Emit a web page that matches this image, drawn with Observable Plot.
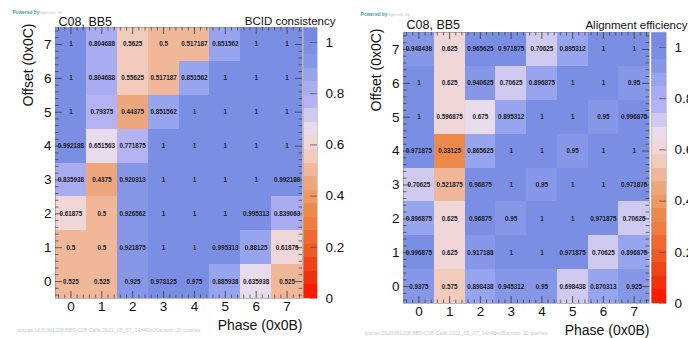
<!DOCTYPE html>
<html><head><meta charset="utf-8">
<script src="https://cdn.jsdelivr.net/npm/d3@7"></script>
<script src="https://cdn.jsdelivr.net/npm/@observablehq/plot@0.6"></script>
<style>
body{margin:0;background:#fff;}
#root{position:relative;width:688px;height:338px;overflow:hidden;font-family:"Liberation Sans",Arial,sans-serif;}
.panel{position:absolute;top:0;width:344px;height:338px;}
.panel svg{position:absolute;left:0;top:0;}
</style></head><body><div id="root"></div>
<script>
// ---- data ----
const phases = [0, 1, 2, 3, 4, 5, 6, 7];          // x: Phase (0x0B)
const offsets = [7, 6, 5, 4, 3, 2, 1, 0];         // y: Offset (0x0C), row order as drawn top->bottom
// BCID consistency, rows offset 7..0, columns phase 0..7
const bcidConsistency = [
  [1, 0.804688, 0.5625, 0.5, 0.517187, 0.851562, 1, 1],
  [1, 0.804688, 0.55625, 0.517187, 0.851562, 1, 1, 1],
  [1, 0.79375, 0.44375, 0.851562, 1, 1, 1, 1],
  [0.992188, 0.651563, 0.771875, 1, 1, 1, 1, 1],
  [0.835938, 0.4375, 0.920313, 1, 1, 1, 1, 0.992188],
  [0.61875, 0.5, 0.926562, 1, 1, 1, 0.995313, 0.839063],
  [0.5, 0.5, 0.921875, 1, 1, 0.995313, 0.88125, 0.61875],
  [0.525, 0.525, 0.925, 0.978125, 0.975, 0.885938, 0.635938, 0.525]
];
// Alignment efficiency, rows offset 7..0, columns phase 0..7
const alignmentEfficiency = [
  [0.948438, 0.625, 0.965625, 0.971875, 0.70625, 0.895312, 1, 1],
  [1, 0.625, 0.940625, 0.70625, 0.896875, 1, 1, 0.95],
  [1, 0.596875, 0.675, 0.895312, 1, 1, 0.95, 0.996875],
  [0.971875, 0.33125, 0.865625, 1, 1, 0.95, 1, 1],
  [0.70625, 0.521875, 0.96875, 1, 0.95, 1, 1, 0.971875],
  [0.896875, 0.625, 0.96875, 0.95, 1, 1, 0.971875, 0.70625],
  [0.996875, 0.625, 0.917188, 1, 1, 0.971875, 0.70625, 0.896875],
  [0.9375, 0.575, 0.898438, 0.945312, 0.95, 0.698438, 0.870313, 0.925]
];
const colorTicks = [0, 0.2, 0.4, 0.6, 0.8, 1];
const titleLeft = "C08, BB5";
const sourceText = "tpscax.1620391228.BB5-C08-Calib.2021_05_07_14h40m30s.root: 20 queries";

// ---- color scale (20 discrete bands, ROOT-like palette) ----
const zMax = 1.0586;
const nBands = 20;
const palette = ["#ff1a00","#f2300e","#f04418","#f05824","#f06a30","#ef7c40","#ec8a4c","#ef9a66",
                 "#eea67c","#f0b898","#f2cbbc","#f0d6d6","#e7dbec","#d0c9f0","#b4b2f2","#a9acf0",
                 "#97a4ee","#8597e6","#7a8fe4","#7888e2"];
const step = zMax / nBands;
const thresholds = d3.range(1, nBands).map(i => i * step);
const colorScale = {type: "threshold", domain: thresholds, range: palette};
const FONT = '"Liberation Sans", Arial, Helvetica, sans-serif';

function cellsOf(values) {
  return values.flatMap((row, r) => row.map((v, c) => ({phase: phases[c], offset: offsets[r], value: v})));
}

const majors = phases;
const minors = d3.range(-2, 38).filter(i => i % 5 !== 0).map(i => i / 5);

function panel(cfg) {
  const div = document.createElement("div");
  div.className = "panel";
  div.style.left = cfg.left + "px";
  const f = cfg.frame;
  const W = f.r - f.l, H = f.b - f.t;
  const cells = cellsOf(cfg.values);
  const tk = "#3a3a3a";
  const heat = Plot.plot({
    width: 344, height: 338,
    marginLeft: f.l, marginRight: 344 - f.r, marginTop: f.t, marginBottom: 338 - f.b,
    x: {domain: [-0.5, 7.5]},
    y: {domain: [-0.5, 7.5]},
    color: colorScale,
    style: {fontFamily: FONT, background: "transparent", overflow: "visible"},
    marks: [
      Plot.rect(cells, {x1: d => d.phase - 0.5, x2: d => d.phase + 0.5, y1: d => d.offset - 0.5, y2: d => d.offset + 0.5,
                        fill: "value", shapeRendering: "crispEdges"}),
      Plot.text(cells, {x: "phase", y: "offset", text: d => String(d.value), fontSize: 6.3, fontWeight: "bold", fill: "#1b1b28"}),
      Plot.frame({stroke: "#8a8a8a", strokeWidth: 0.6}),
      // ROOT-style inward ticks
      Plot.ruleX(majors, {insetTop: H - 7, stroke: tk, strokeWidth: 0.8}),
      Plot.ruleX(majors, {insetBottom: H - 7, stroke: tk, strokeWidth: 0.8}),
      Plot.ruleX(minors, {insetTop: H - 3.5, stroke: tk, strokeWidth: 0.7}),
      Plot.ruleX(minors, {insetBottom: H - 3.5, stroke: tk, strokeWidth: 0.7}),
      Plot.ruleY(majors, {insetRight: W - 7, stroke: tk, strokeWidth: 0.8}),
      Plot.ruleY(majors, {insetLeft: W - 7, stroke: tk, strokeWidth: 0.8}),
      Plot.ruleY(minors, {insetRight: W - 3.5, stroke: tk, strokeWidth: 0.7}),
      Plot.ruleY(minors, {insetLeft: W - 3.5, stroke: tk, strokeWidth: 0.7}),
      Plot.axisX({ticks: phases, tickSize: 0, tickPadding: 3, fontSize: 13.5, fill: "#111", label: null}),
      Plot.axisY({ticks: phases, tickSize: 0, tickPadding: 4, fontSize: 13.5, fill: "#111", label: null}),
      Plot.text([cfg.yLabel], {frameAnchor: "top-left", text: d => d, rotate: -90, textAnchor: "end", lineAnchor: "middle",
                                 dx: cfg.yLabelX - f.l, dy: -4, fontSize: 14, fill: "#111"}),
      Plot.text([cfg.xLabel], {frameAnchor: "bottom-right", text: d => d, textAnchor: "end", lineAnchor: "middle",
                                 dy: 27, fontSize: 14, fill: "#111"}),
      Plot.text([titleLeft], {frameAnchor: "top-left", text: d => d, textAnchor: "start", lineAnchor: "middle",
                              dx: 3, dy: cfg.titleY - f.t, fontSize: 12.5, fill: "#111"}),
      Plot.text([cfg.title], {frameAnchor: "top-right", text: d => d, textAnchor: "end", lineAnchor: "middle",
                              dx: cfg.titleRight - f.r, dy: cfg.titleY - f.t, fontSize: 11.5, fill: "#111"}),
      Plot.text([sourceText], {frameAnchor: "bottom-left", text: d => d, textAnchor: "start", lineAnchor: "middle",
                               dx: cfg.footX - f.l, dy: cfg.footY - f.b, fontSize: 5.3, fill: "#c6c9d2"}),
      Plot.text(["Powered by"], {frameAnchor: "top-left", text: d => d, textAnchor: "start", lineAnchor: "middle",
                                 dx: cfg.pwX - f.l, dy: cfg.pwY - f.t, fontSize: 4.8, fontWeight: "bold", fill: "#48a6a0"}),
      Plot.text(["Highslide JS"], {frameAnchor: "top-left", text: d => d, textAnchor: "start", lineAnchor: "middle",
                                   dx: cfg.pwX + 26 - f.l, dy: cfg.pwY - f.t, fontSize: 4.2, fontStyle: "italic", fill: "#c4c4c4"})
    ]
  });
  const b = cfg.bar;
  const bands = d3.range(nBands).map(i => ({lo: i * step, hi: (i + 1) * step, mid: (i + 0.5) * step}));
  const bar = Plot.plot({
    width: 344, height: 338,
    marginLeft: b.l, marginRight: 344 - b.r, marginTop: f.t, marginBottom: 338 - f.b,
    y: {domain: [0, zMax]},
    color: colorScale,
    style: {fontFamily: FONT, background: "transparent", overflow: "visible"},
    marks: [
      Plot.rect(bands, {y1: "lo", y2: "hi", fill: "mid", shapeRendering: "crispEdges"}),
      Plot.ruleY(colorTicks, {insetLeft: (b.r - b.l) - 7, stroke: "#555", strokeWidth: 0.8}),
      Plot.frame({stroke: "#b0b0b0", strokeWidth: 0.6}),
      Plot.axisY({ticks: colorTicks, anchor: "right", tickSize: 0, tickPadding: 8, fontSize: 13.5, fill: "#111",
                  tickFormat: d3.format("~g"), label: null})
    ]
  });
  div.appendChild(heat);
  div.appendChild(bar);
  return div;
}

const root = document.getElementById("root");
root.appendChild(panel({
  left: 0, values: bcidConsistency, title: "BCID consistency",
  frame: {l: 55, r: 302, t: 27, b: 298}, bar: {l: 303, r: 317},
  yLabel: "Offset (0x0C)", xLabel: "Phase (0x0B)", yLabelX: 28, titleRight: 335, titleY: 21,
  footX: 17, footY: 330, pwX: 12, pwY: 12
}));
root.appendChild(panel({
  left: 344, values: alignmentEfficiency, title: "Alignment efficiency",
  frame: {l: 59, r: 305, t: 32, b: 303}, bar: {l: 307, r: 322},
  yLabel: "Offset (0x0C)", xLabel: "Phase (0x0B)", yLabelX: 32, titleRight: 343, titleY: 24.5,
  footX: 20, footY: 333, pwX: 16, pwY: 14
}));
</script></body></html>
